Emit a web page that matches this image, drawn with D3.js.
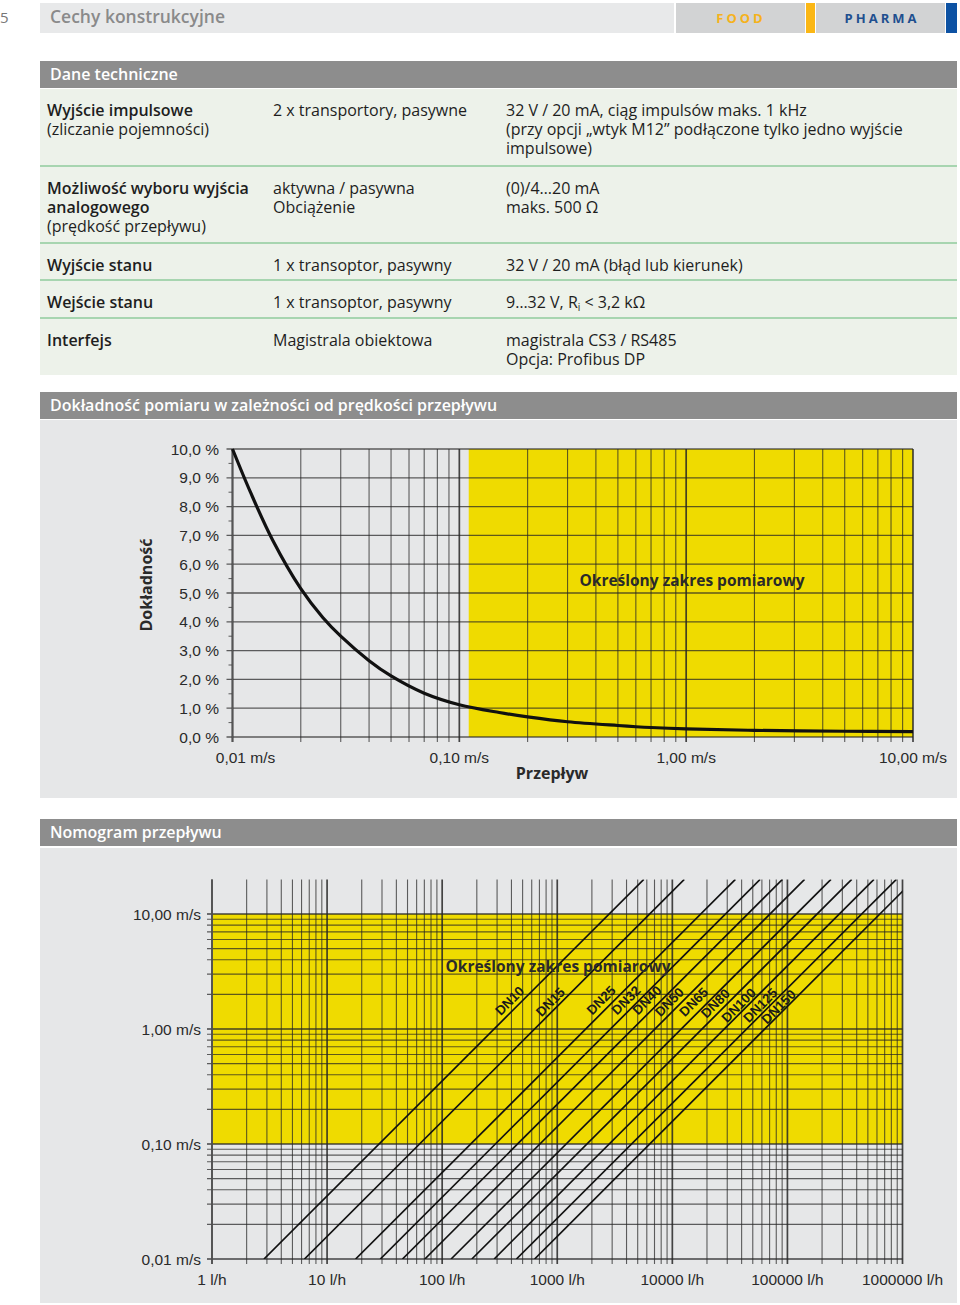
<!DOCTYPE html>
<html><head><meta charset="utf-8">
<script src="https://cdn.jsdelivr.net/npm/d3@7"></script>
<style>
html,body{margin:0;padding:0;background:#fff;}
svg{display:block;}
</style></head><body>
<svg id="page" width="960" height="1305"></svg>
<script>
// ---------------- DATA ----------------
// Accuracy chart
const accVelocity = [0.01,0.012,0.015,0.02,0.025,0.03,0.04,0.05,0.07,0.1,0.15,0.2,0.3,0.5,0.7,1,2,5,10];
const accError    = [10,8.5,6.85,5.15,4.15,3.5,2.65,2.12,1.52,1.12,0.85,0.7,0.53,0.4,0.33,0.28,0.23,0.2,0.19];
const accYTicks = [0,1,2,3,4,5,6,7,8,9,10];
const accYLabels = ["0,0 %","1,0 %","2,0 %","3,0 %","4,0 %","5,0 %","6,0 %","7,0 %","8,0 %","9,0 %","10,0 %"];
const accXTicks = [0.01,0.1,1,10];
const accXLabels = ["0,01 m/s","0,10 m/s","1,00 m/s","10,00 m/s"];
const accRange = [0.11, 10];

// Nomogram
const dnNames     = ["DN10","DN15","DN25","DN32","DN40","DN50","DN65","DN80","DN100","DN125","DN150"];
const dnFlowLow   = [2.83,6.36,17.7,29,45.2,70.7,119.5,181,283,442,636];          // l/h at 0.01 m/s
const dnFlowHigh  = [5650,12700,35300,57900,90500,141000,239000,362000,565000,884000,1272000]; // l/h at 20 m/s
const dnLabelFlow = [385,869,2400,3955,6015,9400,15300,23600,37600,58000,83700];
const dnLabelVel  = [1.76,1.72,1.78,1.78,1.78,1.72,1.72,1.67,1.61,1.61,1.56];
const nomoXTicks = [1,10,100,1000,10000,100000,1000000];
const nomoXLabels = ["1 l/h","10 l/h","100 l/h","1000 l/h","10000 l/h","100000 l/h","1000000 l/h"];
const nomoYTicks = [0.01,0.1,1,10];
const nomoYLabels = ["0,01 m/s","0,10 m/s","1,00 m/s","10,00 m/s"];
const nomoRange = [0.1, 10];

// Table
const tableRows = [
  {c1:[["Wyjście impulsowe",1],["(zliczanie pojemności)",0]], c2:["2 x transportory, pasywne"], c3:["32 V / 20 mA, ciąg impulsów maks. 1 kHz","(przy opcji „wtyk M12” podłączone tylko jedno wyjście","impulsowe)"]},
  {c1:[["Możliwość wyboru wyjścia",1],["analogowego",1],["(prędkość przepływu)",0]], c2:["aktywna / pasywna","Obciążenie"], c3:["(0)/4…20 mA","maks. 500 Ω"]},
  {c1:[["Wyjście stanu",1]], c2:["1 x transoptor, pasywny"], c3:["32 V / 20 mA (błąd lub kierunek)"]},
  {c1:[["Wejście stanu",1]], c2:["1 x transoptor, pasywny"], c3:["__RI__"]},
  {c1:[["Interfejs",1]], c2:["Magistrala obiektowa"], c3:["magistrala CS3 / RS485","Opcja: Profibus DP"]}
];

// ---------------- DRAW ----------------
const svg = d3.select("#page");
const FT = "'Open Sans','Noto Sans',sans-serif";
const FA = "'Liberation Sans',Arial,sans-serif";
const YEL = "#efdb00";
const PANEL = "#e6e7e8";
const GRID = "#262626";

// Page header
svg.append("text").attr("x",0).attr("y",23).attr("font-family",FT).attr("font-size",15).attr("fill","#777").text("5");
svg.append("rect").attr("x",40).attr("y",3).attr("width",634).attr("height",30).attr("fill","#e8e9ea");
svg.append("text").attr("x",50).attr("y",23).attr("font-family",FT).attr("font-weight",600).attr("font-size",17.5).attr("fill","#8a8a8a").text("Cechy konstrukcyjne");
svg.append("rect").attr("x",676).attr("y",3).attr("width",129).attr("height",30).attr("fill","#d2d3d4");
svg.append("rect").attr("x",806).attr("y",3).attr("width",9).attr("height",30).attr("fill","#fbb715");
svg.append("rect").attr("x",816).attr("y",3).attr("width",129).attr("height",30).attr("fill","#d2d3d4");
svg.append("rect").attr("x",946).attr("y",3).attr("width",11).attr("height",30).attr("fill","#0d52a3");
svg.append("text").attr("x",741).attr("y",23).attr("text-anchor","middle").attr("font-family",FT).attr("font-weight",700).attr("font-size",13).attr("letter-spacing",3).attr("fill","#f5b21c").text("FOOD");
svg.append("text").attr("x",882).attr("y",23).attr("text-anchor","middle").attr("font-family",FT).attr("font-weight",700).attr("font-size",13).attr("letter-spacing",3).attr("fill","#1f4f8f").text("PHARMA");

function sectionHeader(y, label){
  svg.append("rect").attr("x",40).attr("y",y).attr("width",917).attr("height",27).attr("fill","#8d8d8d");
  svg.append("text").attr("x",50).attr("y",y+19).attr("font-family",FT).attr("font-weight",600).attr("font-size",16).attr("fill","#fff").text(label);
}
sectionHeader(61,"Dane techniczne");
sectionHeader(392,"Dokładność pomiaru w zależności od prędkości przepływu");
sectionHeader(819,"Nomogram przepływu");

// Table
const rowTops = [89,167,244,281,319];
const rowBottoms = [166,243,280,318,375];
svg.append("rect").attr("x",40).attr("y",89).attr("width",917).attr("height",286).attr("fill","#edf2ea");
rowBottoms.slice(0,4).forEach(y=>{
  svg.append("line").attr("x1",40).attr("x2",957).attr("y1",y).attr("y2",y).attr("stroke","#8fcb9c").attr("stroke-width",1.6);
});
const colX = [47,273,506];
const FS = 16;
tableRows.forEach((r,i)=>{
  const base = rowTops[i]+26.5;
  r.c1.forEach((l,j)=>{
    svg.append("text").attr("x",colX[0]).attr("y",base+j*19.2).attr("font-family",FT).attr("font-size",FS)
      .attr("font-weight",l[1]?600:400).attr("fill","#1e1e1e").text(l[0]);
  });
  r.c2.forEach((l,j)=>{
    svg.append("text").attr("x",colX[1]).attr("y",base+j*19.2).attr("font-family",FT).attr("font-size",FS).attr("fill","#1e1e1e").text(l);
  });
  r.c3.forEach((l,j)=>{
    const t = svg.append("text").attr("x",colX[2]).attr("y",base+j*19.2).attr("font-family",FT).attr("font-size",FS).attr("fill","#1e1e1e");
    if(l==="__RI__"){
      t.append("tspan").text("9…32 V, R");
      t.append("tspan").attr("font-size",10).attr("dy",3).text("i");
      t.append("tspan").attr("dy",-3).text(" < 3,2 kΩ");
    } else t.text(l);
  });
});

// ---------------- Accuracy chart ----------------
svg.append("rect").attr("x",40).attr("y",420).attr("width",917).attr("height",378).attr("fill",PANEL);
const ax = d3.scaleLog().domain([0.01,10]).range([232.5,913]);
const ay = d3.scaleLinear().domain([0,10]).range([737,449]);
const g1 = svg.append("g");
g1.append("rect").attr("x",ax(accRange[0])).attr("y",ay(10)).attr("width",ax(accRange[1])-ax(accRange[0])).attr("height",ay(0)-ay(10)).attr("fill",YEL);
const isDec = v=>Math.abs(Math.log10(v)-Math.round(Math.log10(v)))<1e-9;
// vertical grid
ax.ticks().forEach(v=>{
  const dec = isDec(v);
  g1.append("line").attr("x1",ax(v)).attr("x2",ax(v)).attr("y1",ay(10)).attr("y2",ay(0)+5)
    .attr("stroke",GRID).attr("stroke-opacity",dec?0.85:0.72).attr("stroke-width",dec?1.7:1.1);
});
// horizontal grid
accYTicks.forEach(v=>{
  g1.append("line").attr("x1",ax(0.01)-6).attr("x2",ax(10)).attr("y1",ay(v)).attr("y2",ay(v))
    .attr("stroke",GRID).attr("stroke-opacity",0.72).attr("stroke-width",1.3);
});
d3.range(0.5,10,1).forEach(v=>{
  g1.append("line").attr("x1",ax(0.01)-4).attr("x2",ax(0.01)).attr("y1",ay(v)).attr("y2",ay(v))
    .attr("stroke",GRID).attr("stroke-opacity",0.72).attr("stroke-width",1);
});
g1.append("line").attr("x1",ax(0.01)).attr("x2",ax(0.01)).attr("y1",ay(10)).attr("y2",ay(0)+5).attr("stroke","#555").attr("stroke-width",1.7);
// curve
const line1 = d3.line().x((d,i)=>ax(accVelocity[i])).y(d=>ay(d)).curve(d3.curveCatmullRom.alpha(0.5));
g1.append("path").attr("d",line1(accError)).attr("fill","none").attr("stroke","#111").attr("stroke-width",3.2);
// labels
accYTicks.forEach((v,i)=>{
  g1.append("text").attr("x",219).attr("y",ay(v)).attr("dy","0.36em").attr("text-anchor","end")
    .attr("font-family",FA).attr("font-size",15.5).attr("fill","#2a2a2a").text(accYLabels[i]);
});
accXTicks.forEach((v,i)=>{
  g1.append("text").attr("x",ax(v)+(i===0?13:0)).attr("y",763).attr("text-anchor","middle")
    .attr("font-family",FA).attr("font-size",15.5).attr("fill","#2a2a2a").text(accXLabels[i]);
});
g1.append("text").attr("x",552).attr("y",779).attr("text-anchor","middle").attr("font-family",FT).attr("font-weight",700).attr("font-size",16).attr("fill","#2a2a2a").text("Przepływ");
g1.append("text").attr("transform","translate(152,585) rotate(-90)").attr("text-anchor","middle").attr("font-family",FT).attr("font-weight",700).attr("font-size",16).attr("fill","#2a2a2a").text("Dokładność");
g1.append("text").attr("x",692).attr("y",586).attr("text-anchor","middle").attr("font-family",FT).attr("font-weight",700).attr("font-size",15.5).attr("fill","#2a2a2a").text("Określony zakres pomiarowy");

// ---------------- Nomogram ----------------
svg.append("rect").attr("x",40).attr("y",848).attr("width",917).attr("height",455).attr("fill",PANEL);
const nx = d3.scaleLog().domain([1,1e6]).range([212,902.5]);
const ny = d3.scaleLog().domain([0.01,20]).range([1259,879.4]);
const g2 = svg.append("g");
g2.append("rect").attr("x",nx(1)).attr("y",ny(nomoRange[1])).attr("width",nx(1e6)-nx(1)).attr("height",ny(nomoRange[0])-ny(nomoRange[1])).attr("fill",YEL);
nx.ticks().forEach(v=>{
  g2.append("line").attr("x1",nx(v)).attr("x2",nx(v)).attr("y1",ny(20)).attr("y2",ny(0.01)+5)
    .attr("stroke",GRID).attr("stroke-opacity",isDec(v)?0.85:0.72).attr("stroke-width",isDec(v)?1.7:1.1);
});
ny.ticks().filter(v=>v<19).forEach(v=>{
  g2.append("line").attr("x1",nx(1)-5).attr("x2",nx(1e6)).attr("y1",ny(v)).attr("y2",ny(v))
    .attr("stroke",GRID).attr("stroke-opacity",isDec(v)?0.85:0.72).attr("stroke-width",isDec(v)?1.7:1.1);
});
g2.append("line").attr("x1",nx(1)).attr("x2",nx(1)).attr("y1",ny(20)).attr("y2",ny(0.01)+5).attr("stroke","#555").attr("stroke-width",1.7);
svg.append("clipPath").attr("id","nclip").append("rect").attr("x",nx(1)).attr("y",ny(20)).attr("width",nx(1e6)-nx(1)).attr("height",ny(0.01)-ny(20));
const dnG = g2.append("g").attr("clip-path","url(#nclip)");
dnNames.forEach((n,i)=>{
  dnG.append("line").attr("x1",nx(dnFlowLow[i])).attr("y1",ny(0.01)).attr("x2",nx(dnFlowHigh[i])).attr("y2",ny(20))
    .attr("stroke","#111").attr("stroke-width",1.7);
});
dnNames.forEach((n,i)=>{
  g2.append("text").attr("transform",`translate(${nx(dnLabelFlow[i])},${ny(dnLabelVel[i])}) rotate(-45)`)
    .attr("text-anchor","middle").attr("dy","0.35em").attr("font-family",FA).attr("font-size",13.5).attr("font-weight",700)
    .attr("fill","#1a1a1a").text(n);
});
nomoYTicks.forEach((v,i)=>{
  g2.append("text").attr("x",201).attr("y",ny(v)).attr("dy","0.36em").attr("text-anchor","end")
    .attr("font-family",FA).attr("font-size",15.5).attr("fill","#2a2a2a").text(nomoYLabels[i]);
});
nomoXTicks.forEach((v,i)=>{
  g2.append("text").attr("x",nx(v)).attr("y",1285).attr("text-anchor","middle")
    .attr("font-family",FA).attr("font-size",15.5).attr("fill","#2a2a2a").text(nomoXLabels[i]);
});
g2.append("text").attr("x",558).attr("y",972).attr("text-anchor","middle").attr("font-family",FT).attr("font-weight",700).attr("font-size",15.5).attr("fill","#2a2a2a").text("Określony zakres pomiarowy");
</script>
</body></html>
